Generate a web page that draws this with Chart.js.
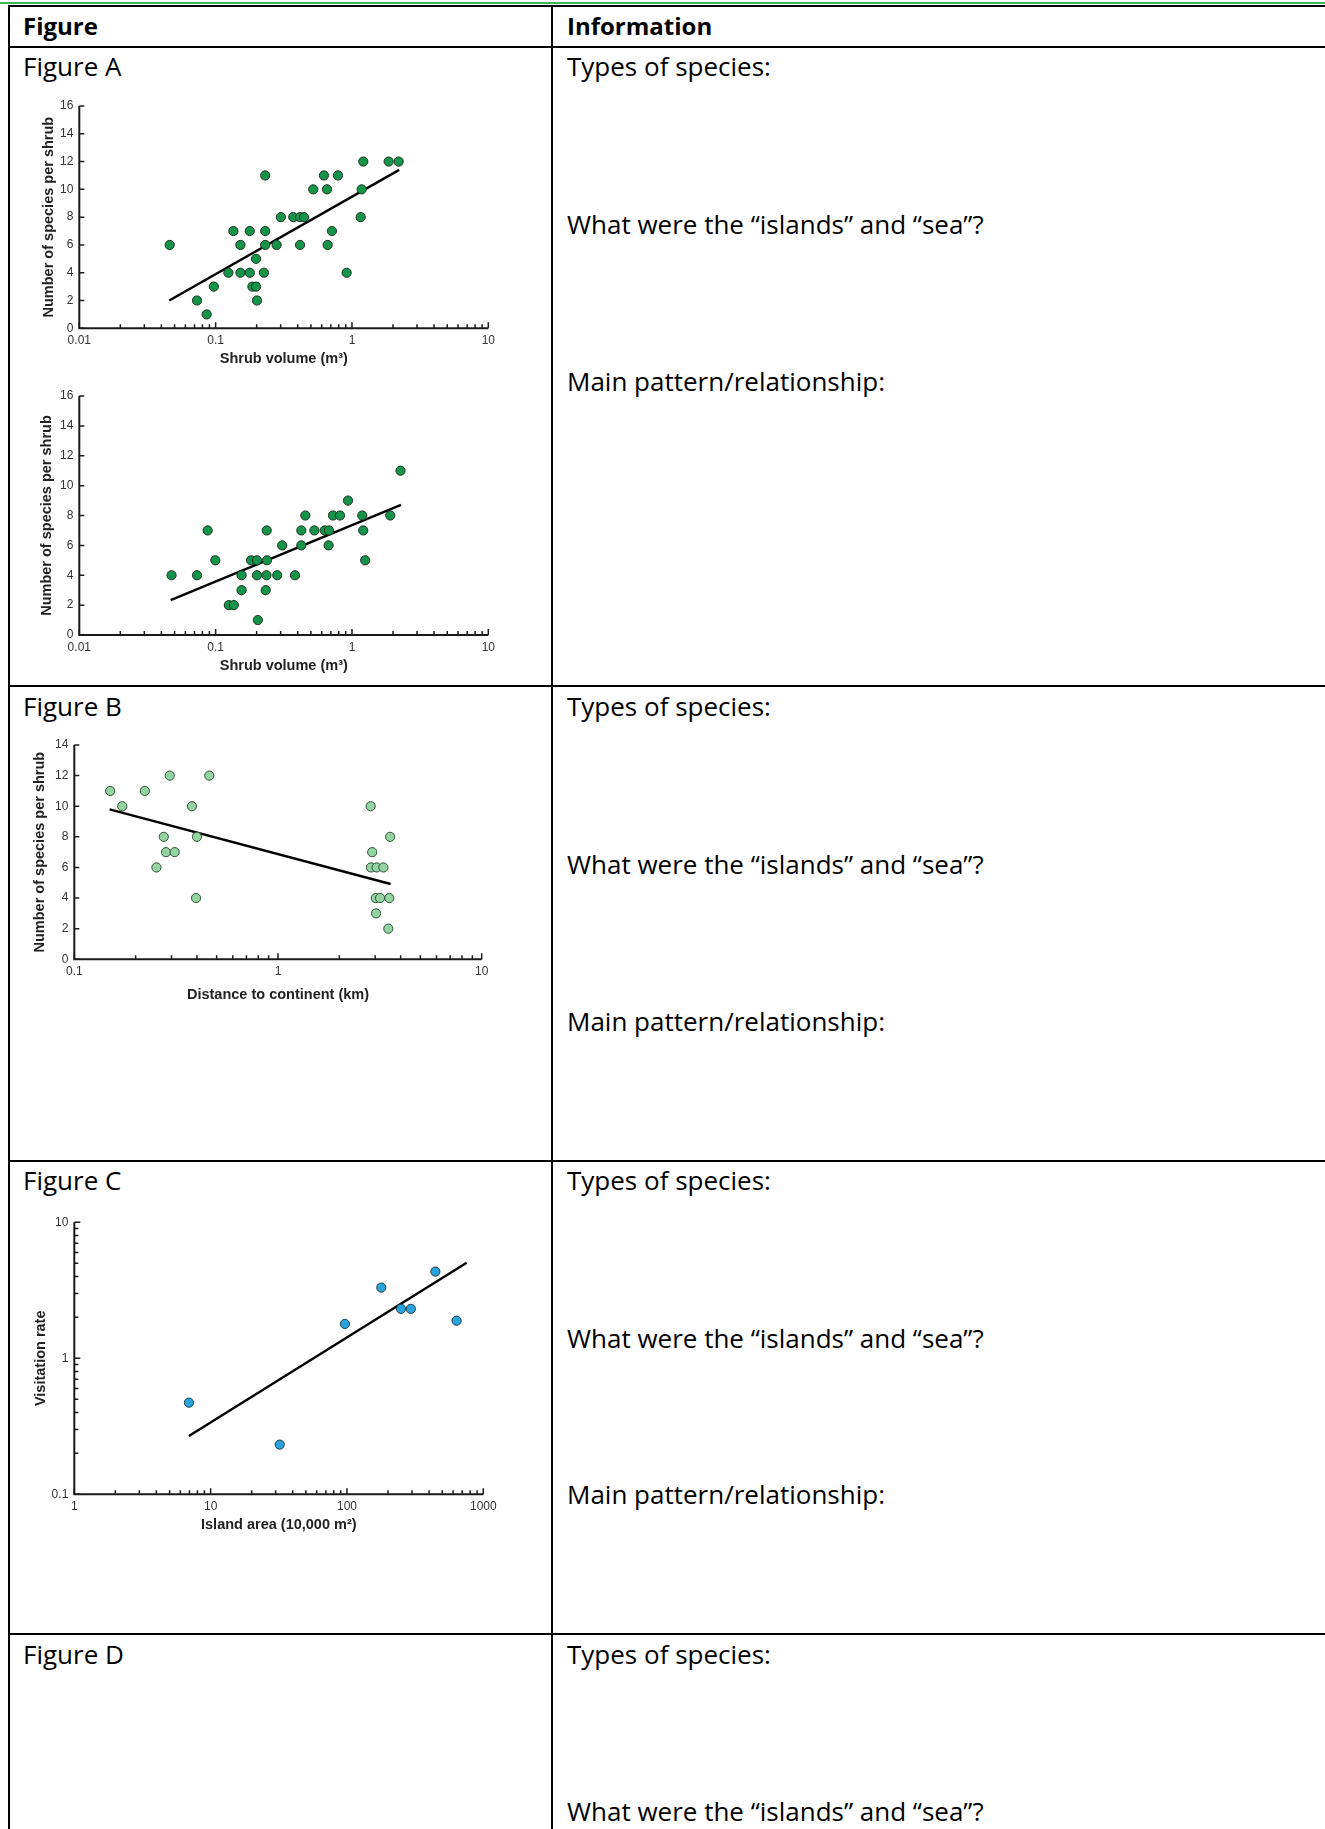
<!DOCTYPE html>
<html lang="en">
<head>
    <meta charset="UTF-8">
    <title>Island biogeography - figures</title>
    <script src="https://cdn.jsdelivr.net/npm/chart.js"></script>
    <style>
        body {
            margin: 0;
            width: 1325px;
            height: 1829px;
            position: relative;
            overflow: hidden;
            background: #fff;
            font-family: 'Open Sans', sans-serif;
        }
        .hl { position: absolute; left: 8px; right: 0; height: 2px; background: #000; }
        .vl { position: absolute; top: 5px; bottom: 0; width: 2px; background: #000; }
        .txt { position: absolute; font-size: 26px; line-height: 34px; color: #000; white-space: nowrap; }
        .bold { font-weight: bold; font-size: 24px; }
        canvas { position: absolute; }
    </style>
</head>
<body>
    <!-- table frame -->
    <div style="position:absolute;left:0;right:0;top:2px;height:2px;background:#3db454;"></div>
    <div class="hl" style="top:5px"></div>
    <div class="hl" style="top:46px"></div>
    <div class="hl" style="top:685px"></div>
    <div class="hl" style="top:1160px"></div>
    <div class="hl" style="top:1633px"></div>
    <div class="vl" style="left:8px"></div>
    <div class="vl" style="left:551px"></div>

    <div class="txt bold" style="left:23px;top:9px">Figure</div>
    <div class="txt bold" style="left:567px;top:9px">Information</div>

    <div class="txt" style="left:23px;top:49px">Figure A</div>
    <div class="txt" style="left:567px;top:49px">Types of species:</div>
    <div class="txt" style="left:567px;top:207px">What were the “islands” and “sea”?</div>
    <div class="txt" style="left:567px;top:364px">Main pattern/relationship:</div>

    <div class="txt" style="left:23px;top:689px">Figure B</div>
    <div class="txt" style="left:567px;top:689px">Types of species:</div>
    <div class="txt" style="left:567px;top:847px">What were the “islands” and “sea”?</div>
    <div class="txt" style="left:567px;top:1004px">Main pattern/relationship:</div>

    <div class="txt" style="left:23px;top:1163px">Figure C</div>
    <div class="txt" style="left:567px;top:1163px">Types of species:</div>
    <div class="txt" style="left:567px;top:1321px">What were the “islands” and “sea”?</div>
    <div class="txt" style="left:567px;top:1477px">Main pattern/relationship:</div>

    <div class="txt" style="left:23px;top:1637px">Figure D</div>
    <div class="txt" style="left:567px;top:1637px">Types of species:</div>
    <div class="txt" style="left:567px;top:1794px">What were the “islands” and “sea”?</div>

    <canvas id="chartA1"></canvas>
    <canvas id="chartA2"></canvas>
    <canvas id="chartB"></canvas>
    <canvas id="chartC"></canvas>

    <script>
        // Figure A, top panel
        const a1Volume = [0.046, 0.073, 0.086, 0.097, 0.124, 0.135, 0.152, 0.152, 0.178, 0.178, 0.186, 0.198,
            0.198, 0.201, 0.231, 0.231, 0.231, 0.226, 0.280, 0.301, 0.371, 0.416, 0.445, 0.416,
            0.520, 0.623, 0.656, 0.663, 0.713, 0.789, 0.914, 1.158, 1.178, 1.211, 1.857, 2.20];
        const a1Species = [6, 2, 1, 3, 4, 7, 6, 4, 7, 4, 3, 5, 3, 2, 11, 7, 6, 4, 6, 8, 8, 8, 8, 6,
            10, 11, 10, 6, 7, 11, 4, 8, 10, 12, 12, 12];
        const a1FitX = [0.0457, 2.22];
        const a1FitY = [2.0, 11.4];

        // Figure A, bottom panel
        const a2Volume = [0.0475, 0.073, 0.0874, 0.0995, 0.125, 0.136, 0.155, 0.155, 0.182, 0.201, 0.201, 0.204,
            0.237, 0.238, 0.236, 0.233, 0.283, 0.308, 0.382, 0.425, 0.425, 0.455, 0.530, 0.631,
            0.678, 0.674, 0.726, 0.817, 0.935, 1.19, 1.21, 1.25, 1.91, 2.27];
        const a2Species = [4, 4, 7, 5, 2, 2, 4, 3, 5, 5, 4, 1, 7, 5, 4, 3, 4, 6, 4, 7, 6, 8, 7, 7,
            7, 6, 8, 8, 9, 8, 7, 5, 8, 11];
        const a2FitX = [0.0468, 2.29];
        const a2FitY = [2.34, 8.71];

        // Figure B
        const bDistance = [0.150, 0.172, 0.222, 0.253, 0.275, 0.282, 0.294, 0.311, 0.378, 0.396, 0.400, 0.460,
            2.85, 2.90, 2.86, 3.05, 3.29, 3.02, 3.17, 3.03, 3.55, 3.52, 3.48];
        const bSpecies = [11, 10, 11, 6, 8, 7, 12, 7, 10, 4, 8, 12, 10, 7, 6, 6, 6, 4, 4, 3, 8, 4, 2];
        const bFitX = [0.149, 3.57];
        const bFitY = [9.8, 4.92];

        // Figure C
        const cArea = [6.93, 32.1, 96.6, 178.6, 249, 294, 445, 637];
        const cRate = [0.472, 0.232, 1.79, 3.31, 2.31, 2.31, 4.34, 1.89];
        const cFitX = [6.93, 755];
        const cFitY = [0.268, 5.05];

        // tick labels
        const volumeTicks = [0.01, 0.1, 1, 10];
        const distanceTicks = [0.1, 1, 10];
        const areaTicks = [1, 10, 100, 1000];
        const rateTicks = [0.1, 1, 10];

        // axis line + inward tick marks, positioned by the chart's own scales
        function tickMarks(scale) {
            const out = [];
            if (scale.type === 'logarithmic') {
                const d0 = Math.round(Math.log10(scale.min));
                const d1 = Math.round(Math.log10(scale.max));
                for (let d = d0; d < d1; d++) {
                    for (let k = 1; k <= 9; k++) out.push({ v: k * Math.pow(10, d), len: k === 1 ? 6 : 4 });
                }
                out.push({ v: scale.max, len: 6 });
            } else {
                scale.ticks.forEach(t => out.push({ v: t.value, len: 5 }));
            }
            return out;
        }

        const inwardAxes = {
            id: 'inwardAxes',
            beforeDatasetsDraw(chart) {
                const { ctx, chartArea: a, scales: { x, y } } = chart;
                ctx.save();
                ctx.strokeStyle = '#1a1a1a';
                ctx.lineWidth = 2;
                ctx.beginPath();
                ctx.moveTo(a.left, a.top);
                ctx.lineTo(a.left, a.bottom);
                ctx.lineTo(a.right, a.bottom);
                ctx.stroke();
                ctx.lineWidth = 1.5;
                ctx.beginPath();
                tickMarks(x).forEach(t => {
                    const px = x.getPixelForValue(t.v);
                    ctx.moveTo(px, a.bottom);
                    ctx.lineTo(px, a.bottom - t.len);
                });
                tickMarks(y).forEach(t => {
                    const py = y.getPixelForValue(t.v);
                    ctx.moveTo(a.left, py);
                    ctx.lineTo(a.left + t.len, py);
                });
                ctx.stroke();
                ctx.restore();
            }
        };

        const titleFont = { family: "'Liberation Sans', Arial, sans-serif", size: 14.5, weight: 'bold' };
        const tickFont = { family: "'Liberation Sans', Arial, sans-serif", size: 12 };

        function axis(type, min, max, ticks, title, isY) {
            const opts = {
                type: type,
                min: min,
                max: max,
                grid: { display: false, drawTicks: false },
                border: { display: false },
                title: {
                    display: true, text: title, font: titleFont, color: '#222',
                    padding: { top: 4, bottom: 4 }
                },
                ticks: {
                    font: tickFont, color: '#333', padding: isY ? 6 : 5,
                    maxRotation: 0, autoSkip: false,
                    callback: v => String(v)
                }
            };
            if (ticks) {
                opts.afterBuildTicks = s => { s.ticks = ticks.map(v => ({ value: v })); };
            } else {
                opts.ticks.stepSize = 2;
            }
            return opts;
        }

        function makeChart(id, box, plot, xs, ys, fitX, fitY, fill, edge, xAxis, yAxis) {
            const canvas = document.getElementById(id);
            canvas.width = box.right - box.left;
            canvas.height = box.bottom - box.top;
            canvas.style.left = box.left + 'px';
            canvas.style.top = box.top + 'px';
            xAxis.afterFit = s => { s.height = box.bottom - plot.bottom; };
            yAxis.afterFit = s => { s.width = plot.left - box.left; };
            return new Chart(canvas, {
                type: 'scatter',
                data: {
                    datasets: [{
                        type: 'line',
                        data: fitX.map((v, i) => ({ x: v, y: fitY[i] })),
                        borderColor: '#000',
                        borderWidth: 2.4,
                        pointRadius: 0,
                        fill: false,
                        order: 2
                    }, {
                        data: xs.map((v, i) => ({ x: v, y: ys[i] })),
                        backgroundColor: fill,
                        borderColor: edge,
                        borderWidth: 1,
                        pointRadius: 4.6,
                        order: 1
                    }]
                },
                options: {
                    responsive: false,
                    animation: false,
                    layout: {
                        padding: { left: 0, bottom: 0, top: plot.top - box.top, right: box.right - plot.right }
                    },
                    plugins: { legend: { display: false }, tooltip: { enabled: false } },
                    scales: { x: xAxis, y: yAxis }
                },
                plugins: [inwardAxes]
            });
        }

        makeChart('chartA1',
            { left: 36, top: 90, right: 510, bottom: 372 },
            { left: 79.3, top: 106, right: 488.3, bottom: 328.3 },
            a1Volume, a1Species, a1FitX, a1FitY, '#14934a', '#1b3320',
            axis('logarithmic', 0.01, 10, volumeTicks, 'Shrub volume (m³)', false),
            axis('linear', 0, 16, null, 'Number of species per shrub', true));

        makeChart('chartA2',
            { left: 34, top: 380, right: 510, bottom: 679 },
            { left: 79.3, top: 396, right: 488.3, bottom: 635 },
            a2Volume, a2Species, a2FitX, a2FitY, '#14934a', '#1b3320',
            axis('logarithmic', 0.01, 10, volumeTicks, 'Shrub volume (m³)', false),
            axis('linear', 0, 16, null, 'Number of species per shrub', true));

        makeChart('chartB',
            { left: 27, top: 725, right: 505, bottom: 1008 },
            { left: 74.3, top: 745, right: 481.7, bottom: 959.3 },
            bDistance, bSpecies, bFitX, bFitY, '#93d4a2', '#2f4f37',
            axis('logarithmic', 0.1, 10, distanceTicks, 'Distance to continent (km)', false),
            axis('linear', 0, 14, null, 'Number of species per shrub', true));

        makeChart('chartC',
            { left: 28, top: 1205, right: 505, bottom: 1538 },
            { left: 74.3, top: 1222.3, right: 483.3, bottom: 1494.3 },
            cArea, cRate, cFitX, cFitY, '#2aa3dd', '#1d3a4a',
            axis('logarithmic', 1, 1000, areaTicks, 'Island area (10,000 m²)', false),
            axis('logarithmic', 0.1, 10, rateTicks, 'Visitation rate', true));
    </script>
</body>
</html>
